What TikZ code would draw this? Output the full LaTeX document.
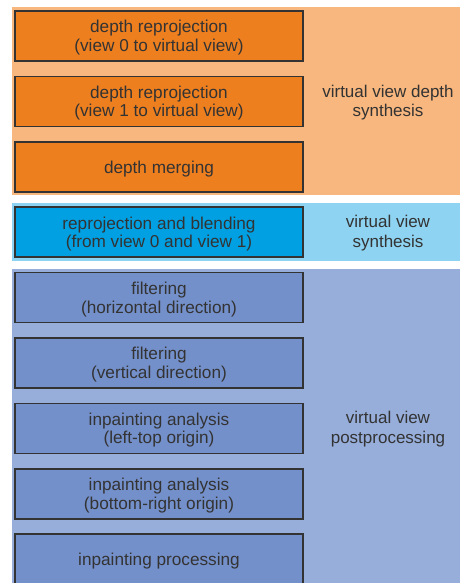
\documentclass[tikz,border=0pt]{standalone}
\usepackage{fontspec}
\setmainfont{Liberation Sans}
\definecolor{orBg}{HTML}{F7B77E}
\definecolor{orBox}{HTML}{EE7F1F}
\definecolor{blBg}{HTML}{8ED3F1}
\definecolor{blBox}{HTML}{00A0E3}
\definecolor{puBg}{HTML}{97AEDB}
\definecolor{puBox}{HTML}{7490CA}
\definecolor{txt}{HTML}{333333}
\begin{document}
\begin{tikzpicture}[x=1pt,y=-1pt,
  stagebox/.style={draw=txt,line width=1.5pt,minimum width=288pt,minimum height=50pt,
    inner sep=0pt,align=center,text=txt,font=\fontsize{17.2}{18.5}\selectfont,
    text depth=0pt},
  sidelabel/.style={align=center,text=txt,font=\fontsize{17}{19.5}\selectfont}]
\useasboundingbox (0,0) rectangle (460,583);
\fill[white] (0,0) rectangle (460,583);
\begin{scope}
\clip (0,0) rectangle (460,583);
\fill[orBg] (12,7) rectangle (460,195);
\fill[blBg] (12,203) rectangle (460,261);
\fill[puBg] (12,269) rectangle (460,583);
\node[stagebox,fill=orBox] (b1) at (159,36) {depth reprojection\\(view 0 to virtual view)};
\node[stagebox,fill=orBox] (b2) at (159,101.4) {depth reprojection\\(view 1 to virtual view)};
\node[stagebox,fill=orBox] (b3) at (159,166.8) {depth merging};
\node[stagebox,fill=blBox] (b4) at (159,232.2) {reprojection and blending\\(from view 0 and view 1)};
\node[stagebox,fill=puBox] (b5) at (159,297.6) {filtering\\(horizontal direction)};
\node[stagebox,fill=puBox] (b6) at (159,363) {filtering\\(vertical direction)};
\node[stagebox,fill=puBox] (b7) at (159,428.4) {inpainting analysis\\(left-top origin)};
\node[stagebox,fill=puBox] (b8) at (159,493.8) {inpainting analysis\\(bottom-right origin)};
\node[stagebox,fill=puBox] (b9) at (159,559.2) {inpainting processing};
\node[sidelabel] (l1) at (388,102.5) {virtual view depth\\synthesis};
\node[sidelabel] (l2) at (388,233) {virtual view\\synthesis};
\node[sidelabel] (l3) at (388,429) {virtual view\\postprocessing};
\end{scope}
\end{tikzpicture}
\end{document}
